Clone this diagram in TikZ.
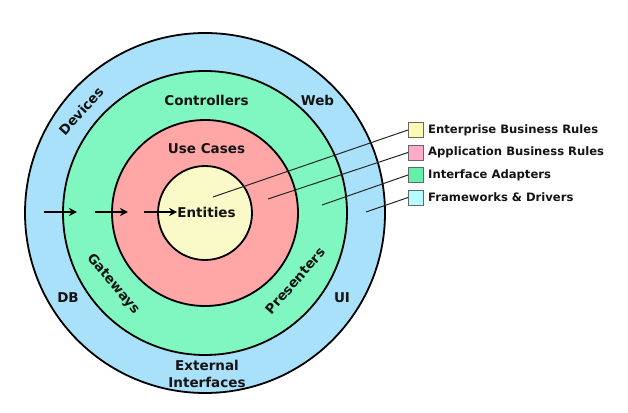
\documentclass[tikz,border=0pt]{standalone}
\usepackage{fontspec}
\setmainfont{DejaVu Sans}
\usetikzlibrary{arrows.meta}
\definecolor{fwblue}{RGB}{170,225,250}
\definecolor{iagreen}{RGB}{128,246,192}
\definecolor{ucpink}{RGB}{255,166,166}
\definecolor{enyellow}{RGB}{250,250,200}
\definecolor{lgyellow}{RGB}{250,250,180}
\definecolor{lgpink}{RGB}{255,170,200}
\definecolor{lggreen}{RGB}{100,240,170}
\definecolor{lgcyan}{RGB}{180,250,255}
\definecolor{txt}{RGB}{20,20,20}
\tikzset{
  ring/.style={circle, draw=black, line width=1.8pt, inner sep=0pt},
  lbl/.style={font=\fontsize{13.5}{15}\selectfont\bfseries, text=txt, inner sep=0pt},
  lgbox/.style={draw=black!60, line width=1pt, minimum size=15pt, inner sep=0pt},
  lgtext/.style={font=\fontsize{11.6}{13}\selectfont\bfseries, text=txt, anchor=west, inner sep=0pt},
  flow/.style={line width=1.6pt, -{Stealth[length=8pt,width=8pt,inset=2.5pt]}},
  lead/.style={line width=1pt, black!85}
}
\begin{document}
\begin{tikzpicture}[x=1pt,y=-1pt]
\useasboundingbox (0,0) rectangle (628,412);
% rings
\node[ring, fill=fwblue, minimum size=360pt] (fw) at (205,213) {};
\node[ring, fill=iagreen, minimum size=284pt] (ia) at (205,213) {};
\node[ring, fill=ucpink, minimum size=186pt] (uc) at (205,213) {};
\node[ring, fill=enyellow, minimum size=94pt] (en) at (205,213) {};
% labels
\node[lbl] (ctrl) at (206.5,100) {Controllers};
\node[lbl] (web) at (317.5,100) {Web};
\node[lbl, rotate=48] (dev) at (81,111) {Devices};
\node[lbl] (ucl) at (206.5,149) {Use Cases};
\node[lbl] (ent) at (206.5,212) {Entities};
\node[lbl, rotate=-50] (gw) at (113,284) {Gateways};
\node[lbl, rotate=49] (pres) at (295,281) {Presenters};
\node[lbl] (db) at (68,298) {DB};
\node[lbl] (ui) at (342,298) {UI};
\node[lbl] (ext) at (207,365) {External};
\node[lbl] (intf) at (207,382) {Interfaces};
% arrows
\coordinate (a1s) at (44,212);
\coordinate (a1e) at (77,212);
\coordinate (a2s) at (95,212);
\coordinate (a2e) at (128,212);
\coordinate (a3s) at (144,212);
\draw[flow] (a1s) -- (a1e);
\draw[flow] (a2s) -- (a2e);
\draw[flow] (a3s) -- (ent.west);
% legend
\node[lgbox, fill=lgyellow] (b1) at (416,130) {};
\node[lgbox, fill=lgpink] (b2) at (416,152.5) {};
\node[lgbox, fill=lggreen] (b3) at (416,175) {};
\node[lgbox, fill=lgcyan] (b4) at (416,197.5) {};
\node[lgtext] (t1) at (428,130) {Enterprise Business Rules};
\node[lgtext] (t2) at (428,152.5) {Application Business Rules};
\node[lgtext] (t3) at (428,175) {Interface Adapters};
\node[lgtext] (t4) at (428,197.5) {Frameworks \& Drivers};
% leaders
\coordinate (p1) at (213,197);
\coordinate (p2) at (268,199);
\coordinate (p3) at (322,205);
\coordinate (p4) at (366,212);
\draw[lead] (b1.west) -- (p1);
\draw[lead] (b2.west) -- (p2);
\draw[lead] (b3.west) -- (p3);
\draw[lead] (b4.west) -- (p4);
\end{tikzpicture}
\end{document}
